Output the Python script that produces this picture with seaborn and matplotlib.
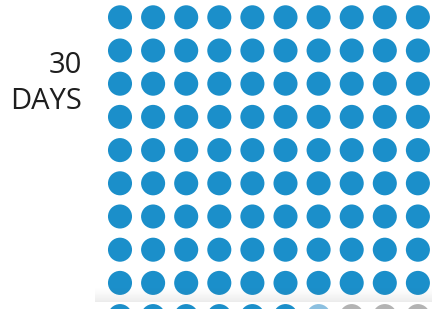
import numpy as np
import pandas as pd
import matplotlib
matplotlib.use("Agg")
import matplotlib.pyplot as plt
import seaborn as sns

# ---- data ----
n_cols = 10
n_rows = 10
status_labels = ["filled", "partial", "empty"]
status_counts = [96, 1, 3]
label_lines = ["30", "DAYS"]
palette = {"filled": "#1b8fca", "partial": "#8cc0e0", "empty": "#b3b3b3"}

status = []
for lab, cnt in zip(status_labels, status_counts):
    status += [lab] * cnt
idx = np.arange(n_cols * n_rows)
df = pd.DataFrame({"col": idx % n_cols, "row": idx // n_cols, "status": status})

sns.set_theme(style="white")
plt.rcParams["font.family"] = ["Open Sans", "DejaVu Sans"]

W, H = 432, 309
fig = plt.figure(figsize=(W / 100, H / 100), dpi=100)
ax = fig.add_axes([0, 0, 1, 1])

x0, dx = 120.0, 33.1
y0, dy = 17.3, 33.2
sns.scatterplot(data=df, x="col", y="row", hue="status", palette=palette,
                s=300, linewidth=0, legend=False, ax=ax)
ax.set_xlim((0 - x0) / dx, (W - x0) / dx)
ax.set_ylim((H - y0) / dy, (0 - y0) / dy)
ax.set_axis_off()

# faint shadow band near the bottom (screenshot artefact)
band_top, band_bot = 286, 302
ov = fig.add_axes([95 / W, 1 - band_bot / H, 1 - 95 / W, (band_bot - band_top) / H], zorder=5)
t = np.linspace(0, 1, 64).reshape(-1, 1)  # 0 at bottom, 1 at top
img = np.zeros((64, 1, 4))
img[..., 0:3] = 0.35
img[..., 3] = (1 - t) ** 1.5 * 0.12
ov.imshow(img, aspect="auto", extent=[0, 1, 0, 1], origin="lower")
ov.set_xlim(0, 1)
ov.set_ylim(0, 1)
ov.axis("off")

baselines = [73, 109]
for txt, yb in zip(label_lines, baselines):
    fig.text(82 / W, 1 - yb / H, txt, ha="right", va="baseline",
             fontsize=21, color="#1e1e1e")

fig.savefig("out.png", dpi=100)
